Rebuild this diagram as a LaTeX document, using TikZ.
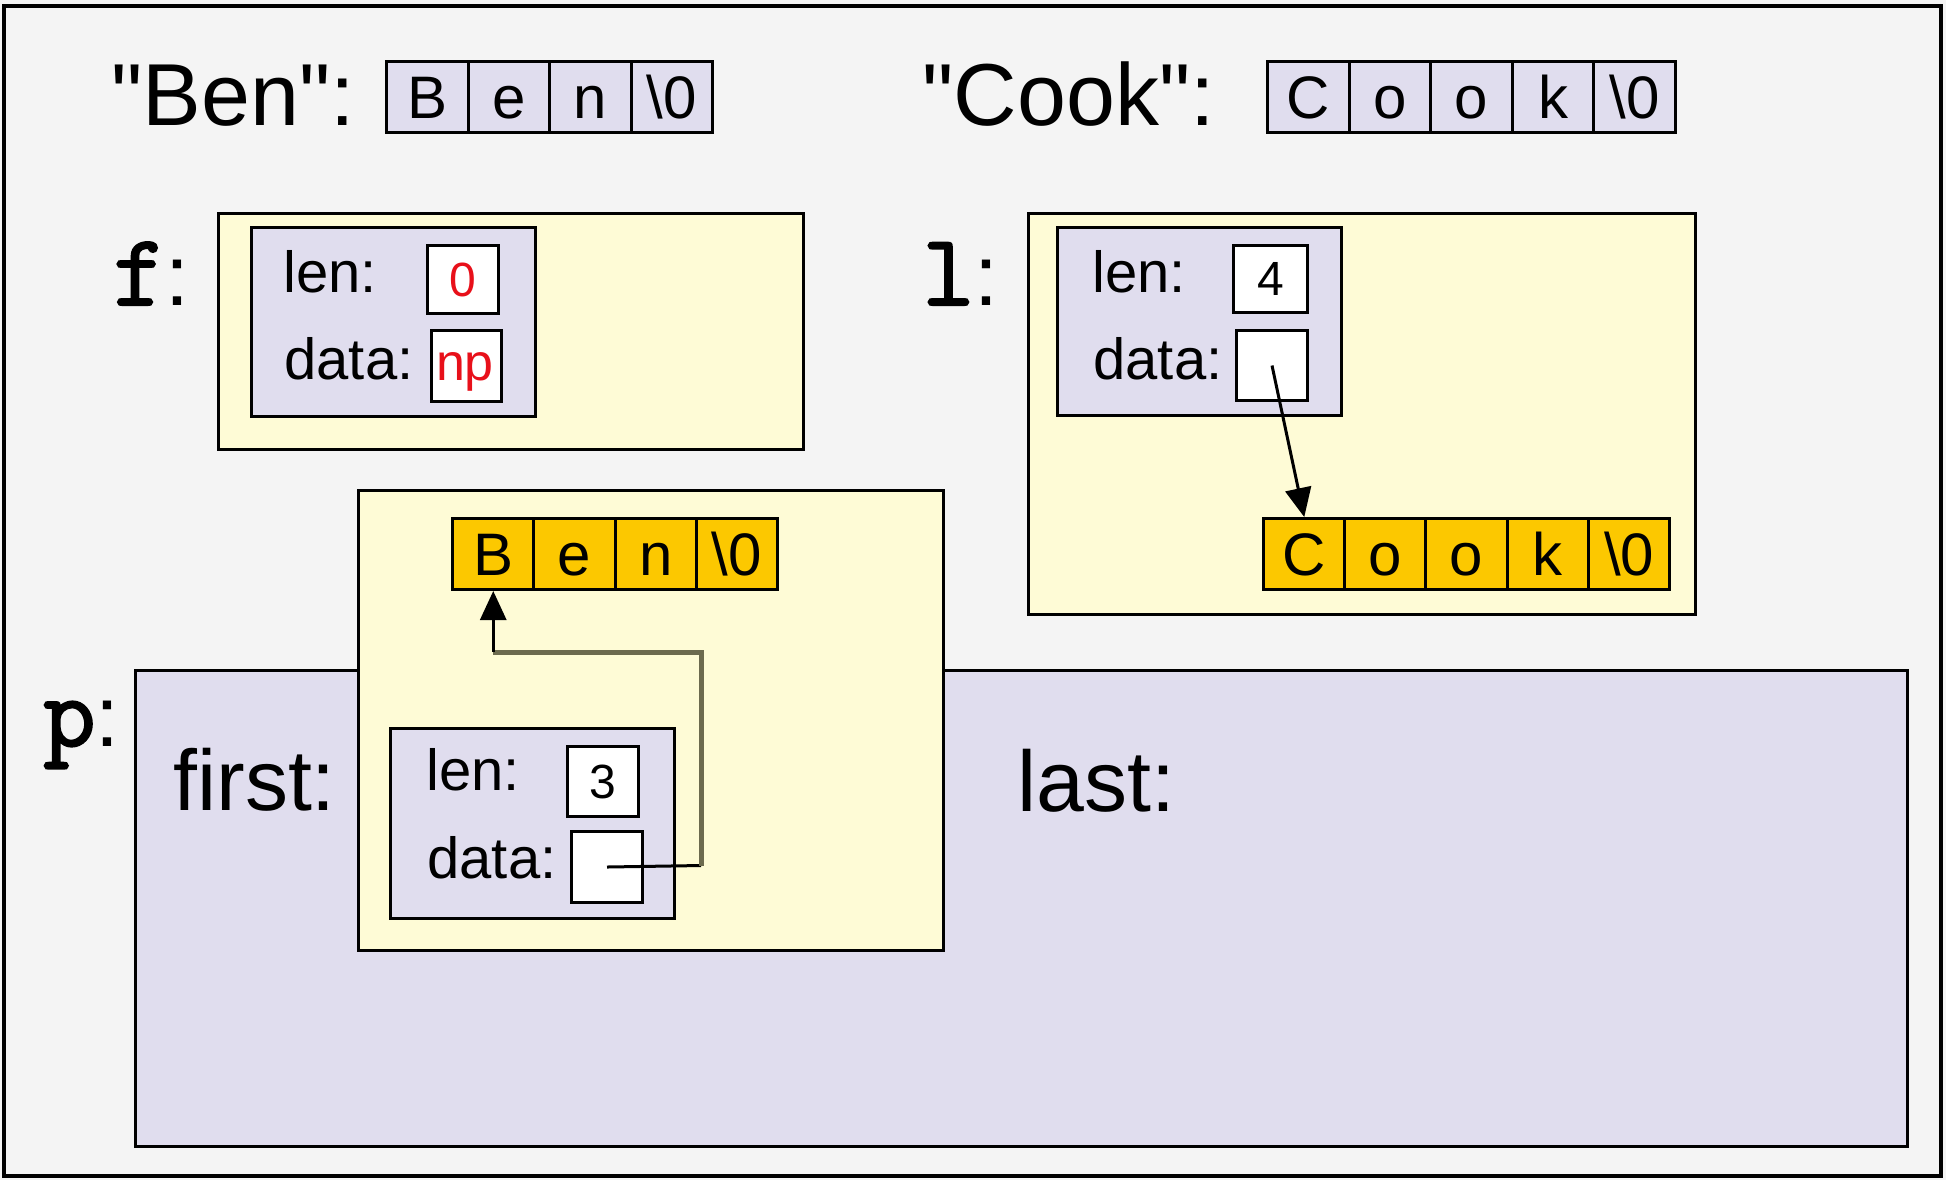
\documentclass[tikz,border=0pt]{standalone}
\usepackage{fontspec}
\setmainfont{Liberation Sans}[Ligatures=TeXOff]
\newfontfamily\courfont{Latin Modern Mono}[FakeBold=2]
\usetikzlibrary{arrows.meta}
\definecolor{bgc}{RGB}{244,244,244}
\definecolor{lav}{RGB}{224,221,238}
\definecolor{yel}{RGB}{254,251,214}
\definecolor{gold}{RGB}{252,200,0}
\definecolor{olivegray}{RGB}{108,106,78}
\definecolor{valred}{RGB}{232,16,26}
\newcommand{\cour}[1]{{\courfont\fontsize{51}{60}\selectfont #1}}
\tikzset{
 boxst/.style={draw=black, line width=1.5pt, inner sep=0pt, anchor=north west},
 cellst/.style={draw=black, line width=1.5pt, inner sep=0pt, anchor=north west,
   minimum width=40.75pt, minimum height=35.5pt, text height=21.5pt, text depth=0pt,
   font=\fontsize{30}{36}\selectfont},
 title/.style={anchor=base west, inner sep=0pt, font=\fontsize{44}{52}\selectfont},
 biglabel/.style={anchor=base west, inner sep=0pt, font=\fontsize{43}{50}\selectfont},
 varlabel/.style={anchor=base east, inner sep=0pt, font=\fontsize{43}{50}\selectfont},
 field/.style={anchor=base west, inner sep=0pt, font=\fontsize{29}{34}\selectfont},
 val/.style={inner sep=0pt, font=\fontsize{24}{28}\selectfont},
 ptr/.style={line width=1.5pt, draw=black},
 ptrtip/.style={-{Triangle[length=14.5pt,width=13pt]}},
 olivelink/.style={line width=2.5pt, draw=olivegray},
}
\newcommand{\mybox}[6]{\node[boxst, fill=#6, minimum width={(#4-#2)*0.5pt}, minimum height={(#5-#3)*0.5pt}] (#1) at (#2,#3) {};}
\begin{document}
\begin{tikzpicture}[x=0.5pt,y=-0.5pt]
\useasboundingbox (0,0) rectangle (1946,1180);
\fill[bgc] (0,0) rectangle (1946,1180);
\draw[line width=2pt] (4,6) rectangle (1941,1176);

% titles and string arrays
\node[title] (bent) at (111,125) {"Ben":};
\node[title] (cookt) at (922,125) {"Cook":};
\foreach \c [count=\i from 0] in {B,e,n,\textbackslash0}
  \node[cellst, fill=lav] (bg\i) at ({385+81.5*\i},60) {\c};
\foreach \c [count=\i from 0] in {C,o,o,k,\textbackslash0}
  \node[cellst, fill=lav] (cg\i) at ({1266+81.6*\i},60) {\c};

% f
\node[varlabel] (flab) at (190,305) {\cour{f}:};
\mybox{fy}{217}{212}{802}{448}{yel}
\mybox{fl}{250}{226}{534}{415}{lav}
\mybox{flen}{426}{244}{497}{312}{white}
\mybox{fdata}{430}{329}{500}{400}{white}
\node[field] (flent) at (283,292) {len:};
\node[field] (fdatat) at (284,379) {data:};
\node[val, text=valred] (fzero) at (flen.center) {0};
\node[val, text=valred, anchor=base, font=\fontsize{26}{30}\selectfont] (fnp) at (465,380) {np};

% l
\node[varlabel] (llab) at (999,305) {\cour{l}:};
\mybox{ly}{1027}{212}{1694}{613}{yel}
\mybox{ll}{1056}{226}{1340}{414}{lav}
\mybox{llen}{1232}{244}{1306}{311}{white}
\mybox{ldata}{1235}{329}{1306}{399}{white}
\node[field] (llent) at (1092,292) {len:};
\node[field] (ldatat) at (1093,379) {data:};
\node[val] (lfour) at (llen.center) {4};
\foreach \c [count=\i from 0] in {C,o,o,k,\textbackslash0}
  \node[cellst, fill=gold] (cy\i) at ({1262+81.2*\i},517) {\c};

% p
\node[varlabel] (plab) at (120,746) {\cour{p}:};
\mybox{pbox}{134}{669}{1906}{1145}{lav}
\node[biglabel] (firstt) at (173,810) {first:};
\node[biglabel] (lastt) at (1017,811) {last:};
\mybox{by}{357}{489}{942}{949}{yel}
\foreach \c [count=\i from 0] in {B,e,n,\textbackslash0}
  \node[cellst, fill=gold] (by\i) at ({451+81.25*\i},517) {\c};
\mybox{bl}{389}{727}{673}{917}{lav}
\mybox{blen}{566}{745}{637}{815}{white}
\mybox{bdata}{570}{830}{641}{901}{white}
\node[field] (blent) at (426,790) {len:};
\node[field] (bdatat) at (427,878) {data:};
\node[val] (bthree) at (blen.center) {3};

% pointers
\draw[ptr, ptrtip] (ldata.center) -- (cy0.north);
\coordinate (bend1) at (701,865.5);
\path (by0.south) ++(0,61) coordinate (bend2);
\draw[ptr] (bdata.center) -- (bend1);
\draw[olivelink] (bend1) |- (bend2);
\draw[ptr, ptrtip] (bend2) -- (by0.south);
\end{tikzpicture}
\end{document}
